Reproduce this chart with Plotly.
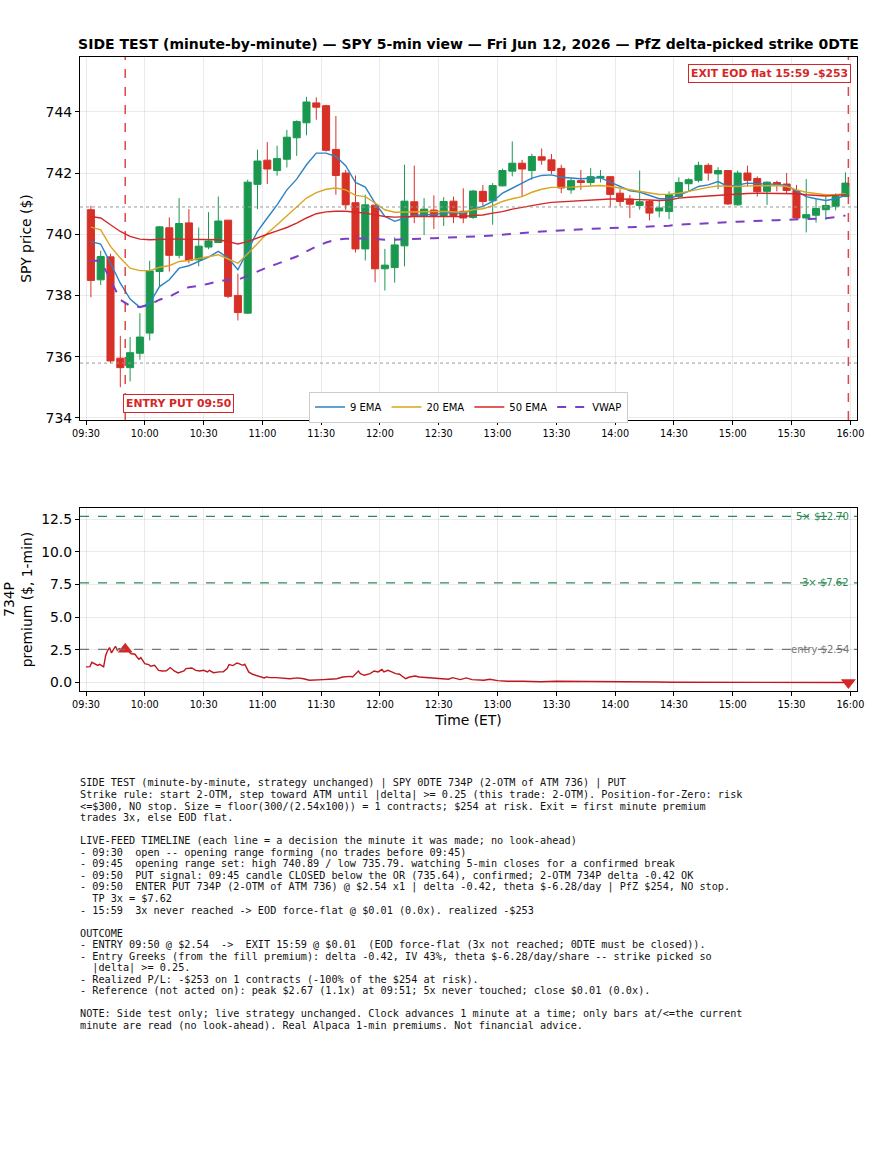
import plotly.graph_objects as go
import pandas as pd

DAY = "2026-06-12"

# ---------------- data: 5-min SPY candles (start times) ----------------
candle_start = pd.date_range(f"{DAY} 09:30", f"{DAY} 15:55", freq="5min")

opens = [740.80, 738.51, 739.26, 735.95, 735.64, 736.11, 736.77, 738.78, 740.21, 739.31,
         740.37, 739.16, 739.58, 739.73, 740.46, 738.00, 737.42, 741.63, 742.42, 742.08,
         742.45, 743.15, 743.64, 744.29, 744.20, 742.77, 742.00, 741.03, 739.52, 740.95,
         738.87, 738.91, 739.62, 741.06, 740.61, 740.79, 740.61, 741.08, 740.75, 740.55,
         741.40, 741.09, 741.58, 742.06, 742.32, 742.08, 742.53, 742.43, 742.15, 741.45,
         741.75, 741.69, 741.84, 741.88, 741.34, 741.15, 740.94, 741.07, 740.76, 740.74,
         741.23, 741.65, 741.76, 742.25, 741.97, 742.08, 740.96, 742.00, 741.82, 741.40,
         741.69, 741.64, 741.43, 740.53, 740.62, 740.80, 740.91, 741.23]
highs = [740.93, 739.46, 739.36, 736.68, 736.64, 737.42, 739.13, 740.27, 740.55, 741.18,
         740.82, 740.22, 740.72, 741.23, 740.46, 738.71, 741.78, 742.76, 743.01, 742.89,
         743.41, 743.72, 744.49, 744.47, 744.23, 743.86, 742.10, 741.92, 741.29, 740.95,
         739.52, 739.90, 742.27, 742.24, 741.18, 741.27, 741.21, 741.23, 741.50, 741.45,
         741.61, 741.67, 742.14, 743.03, 742.43, 742.63, 742.80, 742.62, 742.27, 741.83,
         742.10, 742.16, 742.10, 741.88, 741.47, 741.28, 742.08, 741.12, 741.10, 741.40,
         741.86, 741.83, 742.37, 742.32, 742.19, 742.10, 742.08, 742.24, 741.89, 741.72,
         741.75, 742.00, 741.61, 741.80, 741.16, 741.23, 741.34, 742.02]
lows = [737.94, 738.34, 735.79, 735.00, 735.19, 735.90, 736.53, 738.29, 738.78, 739.21,
        739.05, 738.95, 739.51, 739.73, 737.91, 737.18, 737.39, 740.82, 741.64, 741.91,
        742.18, 742.56, 743.23, 743.74, 742.70, 741.29, 740.80, 739.40, 739.14, 738.43,
        738.16, 738.42, 738.95, 740.36, 739.97, 740.17, 740.27, 740.36, 740.36, 740.50,
        740.91, 740.31, 741.56, 741.89, 741.23, 741.78, 742.27, 741.97, 741.34, 741.32,
        741.45, 741.58, 741.69, 740.88, 740.91, 740.53, 740.80, 740.45, 740.55, 740.49,
        741.18, 741.40, 741.69, 741.75, 741.47, 740.96, 740.93, 741.56, 741.23, 740.96,
        741.40, 741.34, 740.47, 740.06, 740.38, 740.47, 740.78, 741.21]
closes = [738.49, 739.27, 735.86, 735.64, 736.13, 736.64, 738.80, 740.24, 739.31, 740.35,
          739.14, 739.61, 739.78, 740.43, 737.97, 737.44, 741.70, 742.39, 742.13, 742.47,
          743.17, 743.68, 744.32, 744.15, 742.74, 741.92, 740.96, 739.52, 740.96, 738.87,
          738.99, 739.65, 741.08, 740.61, 740.82, 740.61, 741.07, 740.61, 740.53, 741.41,
          741.07, 741.59, 742.08, 742.32, 742.13, 742.54, 742.42, 742.08, 741.51, 741.75,
          741.69, 741.88, 741.89, 741.30, 741.07, 740.98, 741.06, 740.69, 740.86, 741.29,
          741.69, 741.78, 742.25, 742.00, 742.08, 740.99, 742.00, 741.76, 741.39, 741.70,
          741.63, 741.43, 740.53, 740.64, 740.84, 740.94, 741.23, 741.67]

ema9 = [739.76, 739.68, 739.05, 738.40, 737.88, 737.61, 737.75, 738.29, 738.51, 738.89,
        738.97, 739.11, 739.25, 739.44, 739.22, 738.84, 739.44, 740.09, 740.53, 740.96,
        741.45, 741.80, 742.27, 742.65, 742.65, 742.54, 742.24, 741.69, 741.54, 741.02,
        740.58, 740.42, 740.53, 740.61, 740.64, 740.64, 740.69, 740.71, 740.67, 740.82,
        740.91, 741.07, 741.34, 741.51, 741.67, 741.83, 741.92, 741.94, 741.86, 741.83,
        741.81, 741.83, 741.85, 741.70, 741.56, 741.42, 741.38, 741.27, 741.16, 741.16,
        741.29, 741.40, 741.56, 741.61, 741.72, 741.56, 741.61, 741.67, 741.65, 741.64,
        741.63, 741.59, 741.40, 741.23, 741.16, 741.10, 741.16, 741.27]
ema20 = [740.23, 740.14, 739.60, 739.22, 738.89, 738.81, 738.81, 738.92, 738.97, 739.11,
         739.14, 739.20, 739.25, 739.33, 739.19, 739.05, 739.36, 739.71, 740.03, 740.31,
         740.61, 740.91, 741.18, 741.36, 741.47, 741.51, 741.45, 741.27, 741.23, 741.02,
         740.80, 740.72, 740.73, 740.73, 740.74, 740.74, 740.74, 740.74, 740.72, 740.80,
         740.83, 740.93, 741.07, 741.16, 741.23, 741.37, 741.47, 741.53, 741.53, 741.54,
         741.56, 741.58, 741.59, 741.56, 741.51, 741.45, 741.41, 741.35, 741.30, 741.31,
         741.34, 741.40, 741.47, 741.53, 741.58, 741.56, 741.56, 741.58, 741.59, 741.60,
         741.59, 741.56, 741.45, 741.37, 741.32, 741.29, 741.29, 741.32]
ema50 = [740.58, 740.53, 740.31, 740.09, 739.93, 739.84, 739.82, 739.84, 739.84, 739.84,
         739.84, 739.82, 739.82, 739.82, 739.76, 739.68, 739.76, 739.89, 740.00, 740.11,
         740.22, 740.36, 740.53, 740.67, 740.73, 740.75, 740.75, 740.72, 740.69, 740.63,
         740.58, 740.56, 740.58, 740.58, 740.58, 740.58, 740.58, 740.58, 740.58, 740.61,
         740.63, 740.69, 740.74, 740.82, 740.88, 740.95, 740.99, 741.04, 741.06, 741.08,
         741.10, 741.12, 741.15, 741.15, 741.15, 741.13, 741.13, 741.12, 741.10, 741.12,
         741.18, 741.21, 741.23, 741.27, 741.29, 741.31, 741.32, 741.33, 741.34, 741.34,
         741.34, 741.34, 741.32, 741.29, 741.27, 741.25, 741.27, 741.29]
vwap = [739.13, 739.13, 738.51, 737.86, 737.66, 737.62, 737.69, 737.86, 737.96, 738.13,
        738.27, 738.31, 738.38, 738.46, 738.51, 738.51, 738.64, 738.78, 738.92, 739.03,
        739.16, 739.27, 739.44, 739.60, 739.73, 739.82, 739.85, 739.86, 739.86, 739.85,
        739.82, 739.82, 739.84, 739.85, 739.86, 739.87, 739.88, 739.89, 739.92, 739.93,
        739.94, 739.96, 739.98, 740.01, 740.03, 740.06, 740.09, 740.11, 740.13, 740.14,
        740.15, 740.18, 740.19, 740.20, 740.22, 740.23, 740.24, 740.25, 740.26, 740.28,
        740.31, 740.33, 740.34, 740.36, 740.38, 740.39, 740.41, 740.42, 740.44, 740.45,
        740.46, 740.47, 740.48, 740.49, 740.50, 740.52, 740.56, 740.61]

or_high = 740.89
or_low = 735.79
entry_time = "09:50"
exit_time = "15:59"

# ---------------- data: 734P premium (1-min) ----------------
prem_times = ["09:30", "09:32", "09:33", "09:35", "09:36", "09:37", "09:39", "09:40", "09:41", "09:42",
              "09:43", "09:45", "09:46", "09:47", "09:48", "09:49", "09:50", "09:51", "09:52", "09:53",
              "09:55", "09:56", "09:57", "09:58", "10:00", "10:02", "10:03", "10:05", "10:07", "10:09",
              "10:11", "10:13", "10:15", "10:17", "10:20", "10:21", "10:24", "10:26", "10:28", "10:30",
              "10:32", "10:33", "10:35", "10:38", "10:40", "10:42", "10:43", "10:45", "10:47", "10:48",
              "10:50", "10:51", "10:53", "10:55", "10:59", "11:01", "11:02", "11:04", "11:07", "11:11",
              "11:14", "11:18", "11:21", "11:24", "11:28", "11:31", "11:34", "11:38", "11:41", "11:45",
              "11:46", "11:49", "11:50", "11:52", "11:55", "11:57", "11:59", "12:01", "12:02", "12:04",
              "12:06", "12:08", "12:10", "12:13", "12:15", "12:18", "12:20", "12:25", "12:30", "12:35",
              "12:37", "12:41", "12:44", "12:47", "12:53", "12:56", "13:00", "13:05", "13:13", "13:22",
              "13:30", "13:39", "13:47", "13:56", "14:04", "14:13", "14:21", "14:30", "14:47", "15:12",
              "15:14", "15:36", "15:59"]
prem_vals = [1.20, 1.22, 1.55, 1.40, 1.32, 1.40, 1.20, 2.05, 2.45, 2.68,
             2.27, 2.78, 2.47, 2.60, 2.50, 2.55, 2.54, 2.67, 2.35, 2.20,
             2.17, 1.96, 1.78, 1.91, 1.45, 1.38, 1.25, 1.32, 0.94, 0.89,
             0.90, 1.15, 0.89, 0.74, 0.89, 1.07, 1.12, 0.94, 0.89, 0.94,
             0.82, 0.94, 0.76, 0.82, 0.82, 1.07, 1.38, 1.30, 1.50, 1.45,
             1.32, 1.40, 0.82, 0.64, 0.43, 0.36, 0.43, 0.38, 0.38, 0.36,
             0.30, 0.36, 0.30, 0.18, 0.18, 0.23, 0.26, 0.30, 0.43, 0.48,
             0.43, 0.89, 0.69, 0.56, 0.69, 0.89, 0.82, 1.00, 0.82, 0.94,
             0.82, 0.69, 0.64, 0.30, 0.43, 0.51, 0.43, 0.38, 0.36, 0.26,
             0.38, 0.23, 0.36, 0.23, 0.18, 0.26, 0.15, 0.10, 0.10, 0.07,
             0.10, 0.10, 0.07, 0.10, 0.07, 0.05, 0.05, 0.03, 0.03, 0.03,
             0.01, 0.01, 0.01]
entry_px = 2.54
exit_px = 0.01
tp3 = 7.62
tp5 = 12.70

text_lines = [
    "SIDE TEST (minute-by-minute, strategy unchanged) | SPY 0DTE 734P (2-OTM of ATM 736) | PUT",
    "Strike rule: start 2-OTM, step toward ATM until |delta| >= 0.25 (this trade: 2-OTM). Position-for-Zero: risk",
    "<=$300, NO stop. Size = floor(300/(2.54x100)) = 1 contracts; $254 at risk. Exit = first minute premium",
    "trades 3x, else EOD flat.",
    "",
    "LIVE-FEED TIMELINE (each line = a decision the minute it was made; no look-ahead)",
    "- 09:30  open -- opening range forming (no trades before 09:45)",
    "- 09:45  opening range set: high 740.89 / low 735.79. watching 5-min closes for a confirmed break",
    "- 09:50  PUT signal: 09:45 candle CLOSED below the OR (735.64), confirmed; 2-OTM 734P delta -0.42 OK",
    "- 09:50  ENTER PUT 734P (2-OTM of ATM 736) @ $2.54 x1 | delta -0.42, theta $-6.28/day | PfZ $254, NO stop.",
    "  TP 3x = $7.62",
    "- 15:59  3x never reached -> EOD force-flat @ $0.01 (0.0x). realized -$253",
    "",
    "OUTCOME",
    "- ENTRY 09:50 @ $2.54  ->  EXIT 15:59 @ $0.01  (EOD force-flat (3x not reached; 0DTE must be closed)).",
    "- Entry Greeks (from the fill premium): delta -0.42, IV 43%, theta $-6.28/day/share -- strike picked so",
    "  |delta| >= 0.25.",
    "- Realized P/L: -$253 on 1 contracts (-100% of the $254 at risk).",
    "- Reference (not acted on): peak $2.67 (1.1x) at 09:51; 5x never touched; close $0.01 (0.0x).",
    "",
    "NOTE: Side test only; live strategy unchanged. Clock advances 1 minute at a time; only bars at/<=the current",
    "minute are read (no look-ahead). Real Alpaca 1-min premiums. Not financial advice.",
]

# ---------------- styling ----------------
W, H = 893, 1155
ML, MR, MT, MB = 80, 36, 57, 464
PH = H - MT - MB
def py(ypix):
    return (H - MB - ypix) / PH

FONT = "DejaVu Sans"
GREEN = "#1a9850"
RED = "#d73027"
C9, C20, C50, CV = "#2b83c6", "#daa520", "#d62728", "#7b3fc4"
GRID = "rgba(0,0,0,0.08)"

def dt(hm):
    return f"{DAY} {hm}"

xrange_ = [dt("09:26:56"), dt("16:03:24")]
prem_x = [dt(t) for t in prem_times]

fig = go.Figure()

fig.add_trace(go.Candlestick(
    x=candle_start, open=opens, high=highs, low=lows, close=closes,
    xperiod=300000, xperiodalignment="middle",
    increasing=dict(line=dict(color=GREEN, width=1), fillcolor=GREEN),
    decreasing=dict(line=dict(color=RED, width=1), fillcolor=RED),
    whiskerwidth=0, showlegend=False, hoverinfo="skip", xaxis="x", yaxis="y"))

for name, vals, col, dash, wid in [("9 EMA", ema9, C9, "solid", 1.4),
                                   ("20 EMA", ema20, C20, "solid", 1.4),
                                   ("50 EMA", ema50, C50, "solid", 1.4),
                                   ("VWAP", vwap, CV, "dash", 2.0)]:
    fig.add_trace(go.Scatter(x=candle_start, y=vals, mode="lines", name=name,
                             xperiod=300000, xperiodalignment="middle",
                             line=dict(color=col, width=wid, dash=dash),
                             xaxis="x", yaxis="y"))

fig.add_trace(go.Scatter(x=prem_x, y=prem_vals, mode="lines", showlegend=False,
                         line=dict(color="#c0171c", width=1.4), xaxis="x2", yaxis="y2"))
fig.add_trace(go.Scatter(x=[dt(entry_time)], y=[entry_px], mode="markers", showlegend=False,
                         marker=dict(symbol="triangle-up", size=13, color="#d62728"),
                         xaxis="x2", yaxis="y2"))
fig.add_trace(go.Scatter(x=[dt(exit_time)], y=[exit_px], mode="markers", showlegend=False,
                         marker=dict(symbol="triangle-down", size=13, color="#d62728"),
                         xaxis="x2", yaxis="y2"))

shapes = []
for lvl in (or_high, or_low):
    shapes.append(dict(type="line", xref="x domain", yref="y", x0=0, x1=1, y0=lvl, y1=lvl,
                       line=dict(color="#999999", width=1, dash="dot")))
for t in (entry_time, exit_time):
    shapes.append(dict(type="line", xref="x", yref="y domain", x0=dt(t), x1=dt(t), y0=0, y1=1,
                       line=dict(color="rgba(214,39,40,0.85)", width=1.5, dash="dash")))
for lvl, col in ((tp5, "#2e8b57"), (tp3, "#2e8b57"), (entry_px, "#777777")):
    shapes.append(dict(type="line", xref="x2 domain", yref="y2", x0=0, x1=1, y0=lvl, y1=lvl,
                       line=dict(color=col, width=1.2, dash="dash")))

ann = []
ann.append(dict(x=dt(entry_time), y=734.46, xref="x", yref="y", xanchor="left", yanchor="middle",
                xshift=-2, showarrow=False, text="<b>ENTRY PUT 09:50</b>",
                font=dict(family=FONT, size=10.8, color="#d62728"), bgcolor="white",
                bordercolor="#d62728", borderwidth=1, borderpad=2))
ann.append(dict(x=dt(exit_time), y=745.24, xref="x", yref="y", xanchor="right", yanchor="middle",
                xshift=3, showarrow=False, text="<b>EXIT EOD flat 15:59 -$253</b>",
                font=dict(family=FONT, size=10.8, color="#d62728"), bgcolor="white",
                bordercolor="#d62728", borderwidth=1, borderpad=2))
for lvl, lab, col in ((tp5, "5× $12.70", "#2e8b57"), (tp3, "3× $7.62", "#2e8b57"),
                      (entry_px, "entry $2.54", "#777777")):
    ann.append(dict(x=0.992, y=lvl, xref="x2 domain", yref="y2", xanchor="right", yanchor="middle",
                    showarrow=False, text=lab, font=dict(family=FONT, size=10, color=col)))

def esc(s):
    return s.replace("&", "&amp;").replace("<", "&lt;").replace(">", "&gt;").replace(" ", "\u00a0")

for i, line in enumerate(text_lines):
    if not line:
        continue
    ann.append(dict(x=0, xref="paper", xanchor="left", xshift=-2,
                    y=py(783.3 + 11.52 * i), yref="paper", yanchor="middle",
                    showarrow=False, text=esc(line), align="left",
                    font=dict(family="DejaVu Sans Mono", size=10.2, color="#111111")))

axis_common = dict(showline=True, linecolor="black", linewidth=1.2, mirror=True,
                   ticks="outside", ticklen=4, tickcolor="black", showgrid=True,
                   gridcolor=GRID, zeroline=False, automargin=False)

fig.update_layout(
    width=W, height=H, margin=dict(l=ML, r=MR, t=MT, b=MB),
    paper_bgcolor="white", plot_bgcolor="white",
    font=dict(family=FONT, color="black"),
    boxgap=0.1, boxgroupgap=0.2,
    title=dict(text="<b>SIDE TEST (minute-by-minute) — SPY 5-min view — Fri Jun 12, 2026 — PfZ delta-picked strike 0DTE</b>",
               x=0.5, xref="paper", xanchor="center", y=1 - 44 / H, yanchor="middle",
               font=dict(family=FONT, size=14, color="black")),
    xaxis=dict(domain=[0, 1], anchor="y", type="date", range=xrange_, tickformat="%H:%M",
               tick0=dt("09:30"), dtick=1800000, tickfont=dict(size=9.7),
               rangeslider=dict(visible=False), **axis_common),
    yaxis=dict(domain=[py(420), 1], anchor="x", range=[733.93, 745.79], tick0=734, dtick=2,
               tickfont=dict(size=13.9), title=dict(text="SPY price ($)", font=dict(size=13.9), standoff=10),
               **axis_common),
    xaxis2=dict(domain=[0, 1], anchor="y2", type="date", range=xrange_, tickformat="%H:%M",
                tick0=dt("09:30"), dtick=1800000, tickfont=dict(size=9.7),
                title=dict(text="Time (ET)", font=dict(size=13.9), standoff=6), **axis_common),
    yaxis2=dict(domain=[0, py(508)], anchor="x2", range=[-0.64, 13.34],
                tickvals=[0, 2.5, 5, 7.5, 10, 12.5], ticktext=["0.0", "2.5", "5.0", "7.5", "10.0", "12.5"],
                tickfont=dict(size=13.9),
                title=dict(text="734P<br>premium ($, 1-min)", font=dict(size=13.9), standoff=5),
                **axis_common),
    legend=dict(orientation="h", x=0.5, xanchor="center", y=py(407), yanchor="middle",
                bgcolor="white", bordercolor="#cccccc", borderwidth=1,
                font=dict(family=FONT, size=10), itemwidth=30, tracegroupgap=0),
    shapes=shapes, annotations=ann,
)

fig.write_html("out.html")
